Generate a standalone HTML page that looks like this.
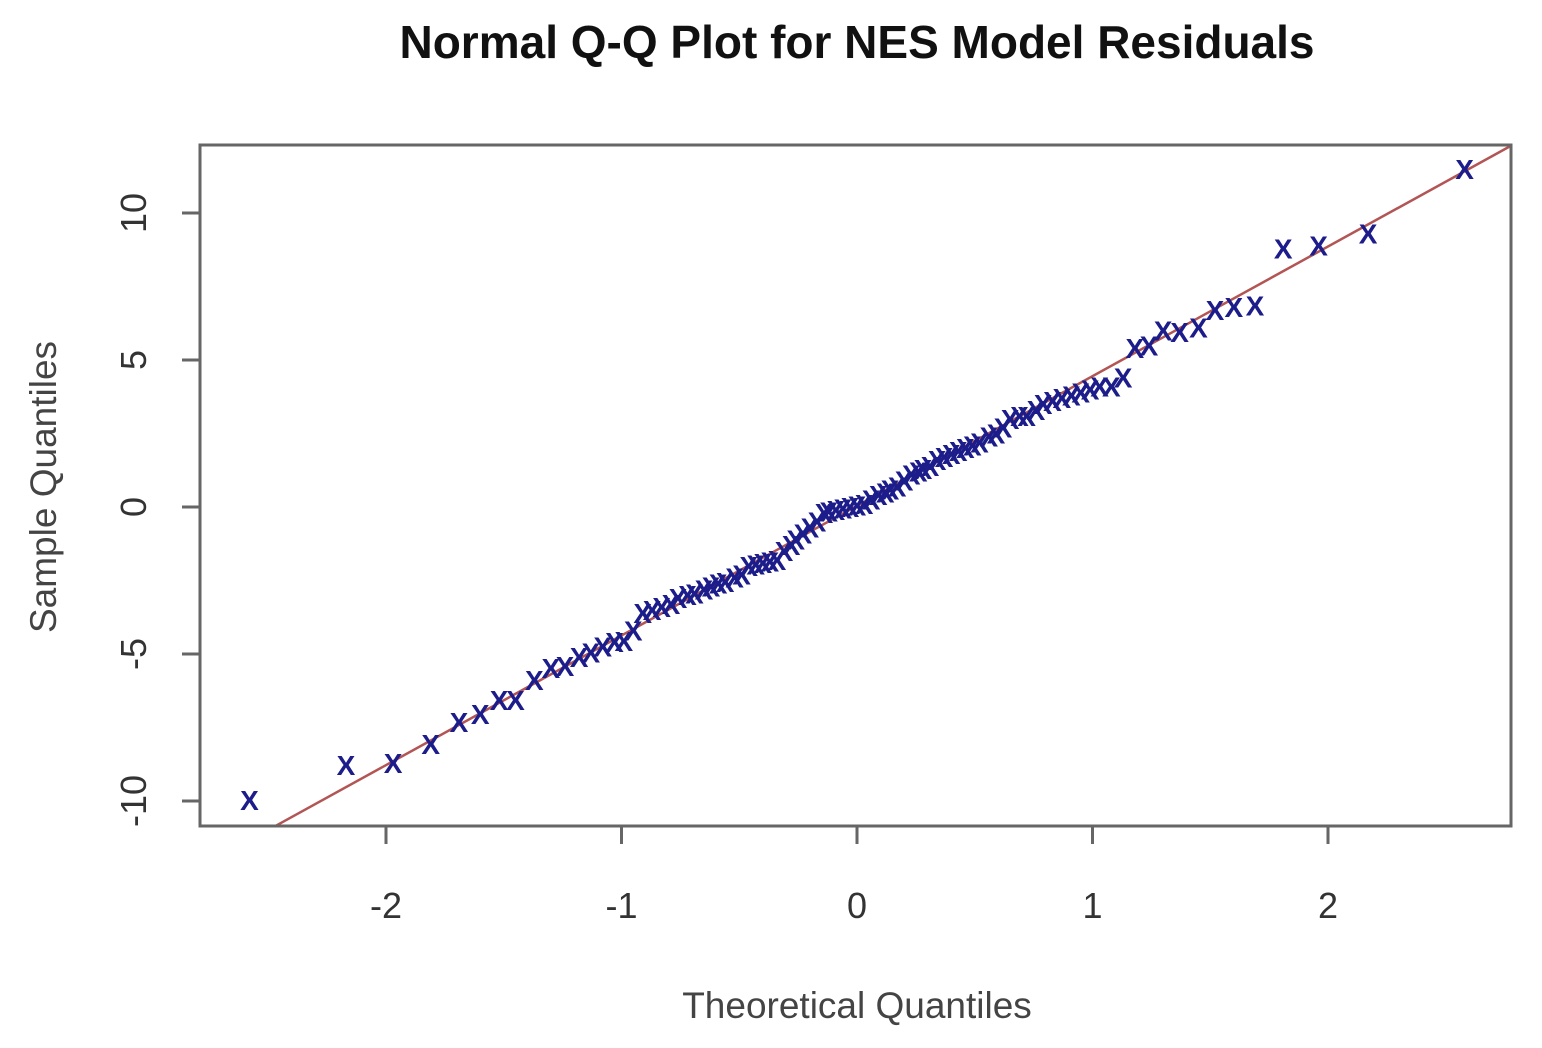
<!DOCTYPE html>
<html><head><meta charset="utf-8"><style>
html,body{margin:0;padding:0;background:#fff;}
svg{display:block;font-family:"Liberation Sans",Arial,sans-serif;}
</style></head><body>
<svg id="chart" width="1542" height="1048" xmlns="http://www.w3.org/2000/svg">
<text x="857" y="58" text-anchor="middle" font-size="46" font-weight="bold" fill="#111">Normal Q-Q Plot for NES Model Residuals</text>
<text x="857" y="1018" text-anchor="middle" font-size="37" fill="#444">Theoretical Quantiles</text>
<text x="0" y="0" transform="translate(56,487) rotate(-90)" text-anchor="middle" font-size="37" fill="#444">Sample Quantiles</text>
<g id="axes"></g>
<g id="marks"></g>
<rect x="200" y="145" width="1311" height="681" fill="none" stroke="#666" stroke-width="3"/>
</svg>
<script>
const theoretical = [-2.58,-2.17,-1.97,-1.81,-1.69,-1.60,-1.52,-1.45,-1.37,-1.30,
-1.24,-1.18,-1.13,-1.08,-1.03,-0.99,-0.95,-0.91,-0.87,-0.83,
-0.79,-0.76,-0.72,-0.69,-0.65,-0.62,-0.59,-0.56,-0.52,-0.49,
-0.46,-0.43,-0.40,-0.37,-0.34,-0.31,-0.28,-0.26,-0.23,-0.20,
-0.17,-0.14,-0.12,-0.09,-0.06,-0.03,0.00,0.03,0.06,0.09,
0.12,0.14,0.17,0.20,0.23,0.26,0.28,0.31,0.34,0.37,
0.40,0.43,0.46,0.49,0.52,0.56,0.59,0.62,0.65,0.69,
0.72,0.76,0.79,0.83,0.87,0.91,0.95,0.99,1.03,1.08,
1.13,1.18,1.24,1.30,1.37,1.45,1.52,1.60,1.69,1.81,
1.96,2.17,2.58];
const sample = [-9.97,-8.78,-8.7,-8.06,-7.31,-7.04,-6.56,-6.56,-5.88,-5.48,
-5.4,-5.1,-4.95,-4.75,-4.6,-4.55,-4.2,-3.6,-3.5,-3.4,
-3.3,-3.1,-3.0,-2.95,-2.8,-2.7,-2.6,-2.55,-2.4,-2.3,
-2.0,-1.95,-1.9,-1.85,-1.8,-1.5,-1.3,-1.1,-0.9,-0.7,
-0.5,-0.2,-0.15,-0.1,-0.05,0,0.05,0.1,0.25,0.4,
0.5,0.6,0.7,0.9,1.1,1.2,1.3,1.4,1.6,1.7,
1.8,1.9,2.0,2.1,2.2,2.4,2.5,2.7,3.0,3.1,
3.1,3.3,3.5,3.6,3.7,3.8,3.9,4.0,4.1,4.1,
4.4,5.4,5.5,6.0,5.95,6.1,6.7,6.8,6.85,8.8,
8.9,9.3,11.5];
const xTicks = [-2,-1,0,1,2];
const yTicks = [-10,-5,0,5,10];
const lineSlope = 4.41;
const lineIntercept = 0.04;

const NS="http://www.w3.org/2000/svg";
const sx = v => 857 + v*235.5;
const sy = v => 507 - v*29.4;
const axes = document.getElementById('axes');
const marks = document.getElementById('marks');
function mk(tag, attrs, parent){const e=document.createElementNS(NS,tag);for(const k in attrs)e.setAttribute(k,attrs[k]);parent.appendChild(e);return e;}

xTicks.forEach(t=>{
  const l=mk('line',{x1:sx(t),x2:sx(t),y1:826,y2:844,stroke:'#666','stroke-width':3},axes);
  
  
  const tx=mk('text',{x:sx(t),y:918,'text-anchor':'middle','font-size':36,fill:'#333'},axes);
  tx.textContent=t;
  
  
});
yTicks.forEach(t=>{
  const l=mk('line',{x1:182,x2:200,y1:sy(t),y2:sy(t),stroke:'#666','stroke-width':3},axes);
  
  
  const tx=mk('text',{x:0,y:0,transform:`translate(146,${sy(t)}) rotate(-90)`,'text-anchor':'middle','font-size':36,fill:'#333'},axes);
  tx.textContent=t;
  
  
});
const xa=-2.47, xb=2.777;
const ref=mk('line',{x1:sx(xa),y1:sy(lineSlope*xa+lineIntercept),x2:sx(xb),y2:sy(lineSlope*xb+lineIntercept),stroke:'#b35555','stroke-width':2.5},marks);


theoretical.forEach((t,i)=>{
  const p=mk('text',{x:sx(t),y:sy(sample[i])+10,'text-anchor':'middle','font-size':28,'font-weight':'bold',fill:'#1c1c8a'},marks);
  p.textContent='X';
  
  
});
</script>
</body></html>
